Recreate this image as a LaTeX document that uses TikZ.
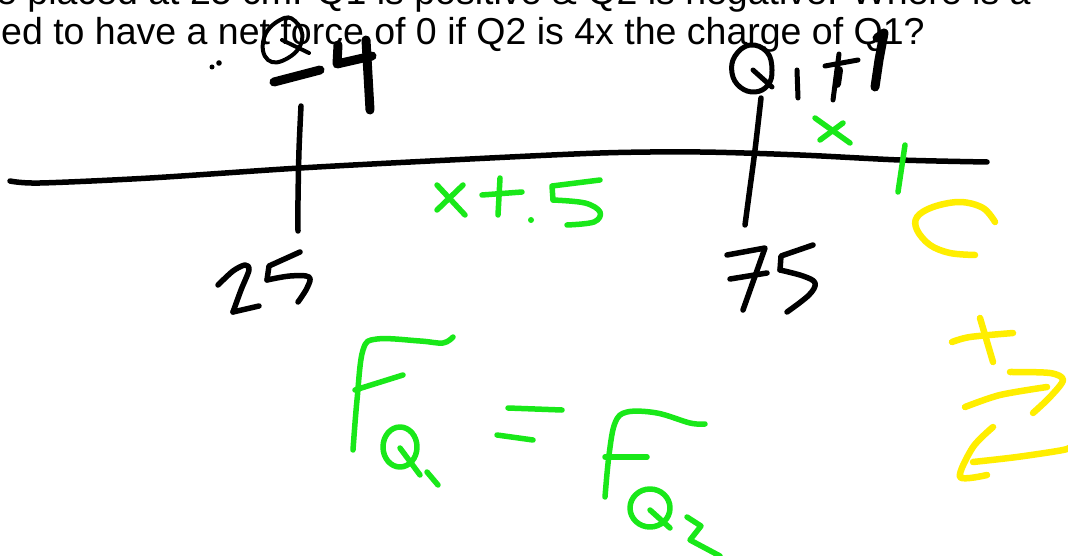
\documentclass[tikz,border=0pt]{standalone}
\usepackage{fontspec}
\setmainfont{Liberation Sans}
\definecolor{inkgreen}{RGB}{25,232,25}
\definecolor{inkyellow}{RGB}{255,238,0}
\begin{document}
\begin{tikzpicture}[x=1pt,y=-1pt,
  qtext/.style={inner sep=0pt, font=\fontsize{37.5}{40}\selectfont, text=black},
  pen/.style={line width=5.5pt, line cap=round, line join=round},
  blk/.style={pen, draw=black},
  grn/.style={pen, draw=inkgreen},
  ylw/.style={pen, draw=inkyellow, line width=6.5pt},
  thick ink/.style={blk, line width=9pt}]
\fill[white] (0,0) rectangle (1068,556);
\useasboundingbox (0,0) rectangle (1068,556);

% printed question (partly cut off at the top, as in the reference)
\node[qtext, anchor=base west] (qline1) at (-4,5) {e placed at 25 cm. Q1 is positive \& Q2 is negative. Where is a};
\node[qtext, anchor=base west] (qline2) at (1,45) {ed to have a net force of 0 if Q2 is 4x the charge of Q1?};

% axis
\draw[blk] plot[smooth] coordinates {(10,181) (40,183) (150,178) (300,168) (450,160) (600,153) (700,152) (800,155) (900,160) (987,162)};
% ticks
\draw[blk] plot[smooth] coordinates {(301,106) (299,150) (298,200) (298,231)};
\draw[blk] plot[smooth] coordinates {(761,98) (755,150) (749,195) (745,225)};

% 25
\draw[blk] plot[smooth, tension=0.5] coordinates {(218,285) (233,271) (245,265) (249,270) (241,290) (233,312)};
\draw[blk] (233,312) -- (259,306);
\draw[blk] (300,252) -- (269,266) -- (267,280);
\draw[blk] plot[smooth, tension=0.6] coordinates {(267,280) (290,276) (309,277) (307,288) (298,302)};

% 75
\draw[blk] (727,255) -- (765,248) -- (743,310);
\draw[blk] (730,279) -- (767,273);
\draw[blk] (813,245) -- (781,256) -- (780,270);
\draw[blk] plot[smooth, tension=0.6] coordinates {(780,270) (803,276) (815,283) (809,295) (787,312)};

% Q -4 (above 25)
\draw[blk, line width=4pt] plot[smooth cycle, tension=0.8] coordinates {(280,20) (264,38) (268,60) (288,58) (302,40) (295,21)};
\draw[blk, line width=4pt] (282,40) -- (309,53);
\draw[thick ink] (274,82) -- (320,70);
\draw[thick ink] (338,45) -- (337,64) -- (372,56);
\draw[thick ink] (366,40) -- (368,75) -- (370,110);
\fill[black] (212,67) circle (2.5);
\fill[black] (219,63) circle (2.8);

% Q1 +1 (above 75)
\draw[blk, line width=5pt] plot[smooth cycle, tension=0.7] coordinates {(750,45) (735,56) (732,73) (740,87) (755,92) (768,85) (772,70) (767,52)};
\draw[blk, line width=5pt] (753,70) -- (772,87);
\draw[blk, line width=5pt] (797,70) -- (798,98);
\draw[blk, line width=5pt] (839,54) -- (833,100);
\draw[blk, line width=5pt] (825,66) -- (858,60);
\draw[blk, line width=8pt] (839,70) -- (837,84);
\draw[thick ink] (877,38) -- (884,33) -- (879,60) -- (875,87);

% green x, tick, x+.5
\draw[grn] (815,118) -- (850,143);
\draw[grn] (843,123) -- (820,140);
\draw[grn] (905,145) -- (898,192);
\draw[grn] (437,185) -- (465,215);
\draw[grn] (463,185) -- (437,210);
\draw[grn] (482,195) -- (522,192);
\draw[grn] (500,178) -- (498,215);
\fill[inkgreen] (531,220) circle (3);
\draw[grn] (600,180) -- (552,186) -- (553,200);
\draw[grn] plot[smooth, tension=0.6] coordinates {(553,200) (585,203) (600,212) (594,222) (567,225)};

% F_Q1 = F_Q2
\draw[grn] plot[smooth, tension=0.6] coordinates {(353,450) (357,400) (363,350) (377,339) (420,341) (443,343) (453,337)};
\draw[grn] (355,390) -- (403,375);
\draw[grn] (400,447) ellipse (17 and 20);
\draw[grn] (400,448) -- (420,475);
\draw[grn] (427,472) -- (438,485);
\draw[grn] (508,408) -- (562,410);
\draw[grn] (497,435) -- (533,440);
\draw[grn] plot[smooth, tension=0.6] coordinates {(605,497) (609,455) (615,423) (627,412) (657,413) (690,423) (705,424)};
\draw[grn] (605,457) -- (647,457);
\draw[grn] (650,508) ellipse (20 and 19);
\draw[grn] (650,510) -- (670,528);
\draw[grn] (687,517) -- (701,526) -- (690,540) -- (720,556);

% yellow c + 2 (rotated)
\draw[ylw] plot[smooth, tension=0.6] coordinates {(995,222) (983,208) (960,202) (933,207) (917,217) (917,230) (930,245) (950,253) (975,255)};
\draw[ylw] plot[smooth] coordinates {(952,342) (970,337) (1013,333)};
\draw[ylw] (980,318) -- (993,362);
\draw[ylw] plot[smooth] coordinates {(965,407) (1000,395) (1047,387)};
\draw[ylw] plot[smooth, tension=0.5] coordinates {(1010,372) (1050,373) (1063,380) (1050,397) (1033,413)};
\draw[ylw] plot[smooth, tension=0.5] coordinates {(993,427) (973,447) (960,477) (987,475)};
\draw[ylw] plot[smooth] coordinates {(973,462) (1017,457) (1063,450) (1072,446)};
\end{tikzpicture}
\end{document}
